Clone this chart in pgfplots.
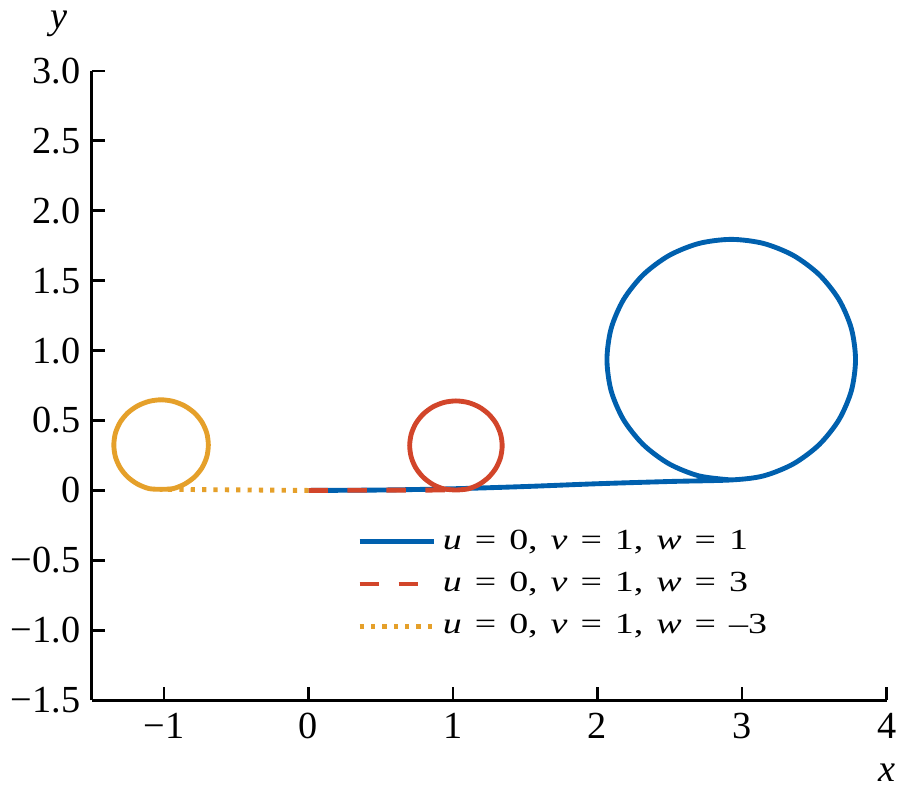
\documentclass[border=0pt]{standalone}
\usepackage{fontspec}
\setmainfont{Liberation Serif}
\newfontfamily\legfont[FakeStretch=1.3]{Liberation Serif}
\usepackage{pgfplots}
\pgfplotsset{compat=1.18}
\definecolor{cblue}{RGB}{0,96,174}
\definecolor{cred}{RGB}{210,69,42}
\definecolor{corange}{RGB}{229,160,42}
\newcommand{\eq}{\hspace{4pt}=\hspace{4pt}}
\newcommand{\cs}{,\hspace{4pt}}
\begin{document}
\begin{tikzpicture}
\begin{axis}[
  scale only axis, width=245pt, height=194pt,
  xmin=-1.5, xmax=4, ymin=-1.5, ymax=3,
  axis lines=left, axis line style={-, line width=0.8pt, black},
  tick align=inside, major tick length=4.2pt,
  tick style={black, line width=0.8pt},
  xtick={-1,0,1,2,3,4}, xticklabels={−1,0,1,2,3,4},
  ytick={-1.5,-1,-0.5,0,0.5,1,1.5,2,2.5,3},
  yticklabels={−1.5,−1.0,−0.5,0,0.5,1.0,1.5,2.0,2.5,3.0},
  tick label style={font=\fontsize{11.8}{13}\selectfont},
  xticklabel style={yshift=-0.5pt},
  clip=false,
  legend cell align=left,
  legend style={draw=none, fill=none, inner sep=0pt, at={(axis cs:0.333,-0.23)}, anchor=north west,
    font=\legfont\fontsize{9}{11}\selectfont, row sep=1.5pt},
  legend image code/.code={\draw[#1] (0pt,0pt) -- (22.9pt,0pt);},
]
% blue: u=0, v=1, w=1
\addplot[cblue, line width=1.5pt, smooth] coordinates {
(0,0) (0.5,0.003) (1,0.012) (1.5,0.028) (2,0.048) (2.5,0.064) (2.925,0.075)
(3.148,0.104) (3.355,0.190) (3.533,0.327) (3.670,0.505) (3.756,0.712) (3.785,0.935)
(3.756,1.158) (3.670,1.365) (3.533,1.543) (3.355,1.680) (3.148,1.766) (2.925,1.795)
(2.702,1.766) (2.495,1.680) (2.317,1.543) (2.180,1.365) (2.094,1.158) (2.065,0.935)
(2.094,0.712) (2.180,0.505) (2.317,0.327) (2.495,0.190) (2.702,0.104) (2.925,0.075)
};
\addlegendentry{\textit{u}\eq0\cs\textit{v}\eq1\cs\textit{w}\eq1}
% red: w=3
\addplot[cred, line width=1.5pt, dash pattern=on 6pt off 6pt] coordinates {
(0,0) (0.5,0.002) (1.02,0.003)
};
\addlegendentry{\textit{u}\eq0\cs\textit{v}\eq1\cs\textit{w}\eq3}
\addplot[cred, line width=1.5pt, smooth, forget plot] coordinates {
(1.020,0.003) (1.103,0.011) (1.180,0.043) (1.246,0.094) (1.297,0.160) (1.329,0.237) (1.340,0.320)
(1.329,0.403) (1.297,0.480) (1.246,0.546) (1.180,0.597) (1.103,0.629) (1.020,0.640)
(0.937,0.629) (0.860,0.597) (0.794,0.546) (0.743,0.480) (0.711,0.403) (0.700,0.320)
(0.711,0.237) (0.743,0.160) (0.794,0.094) (0.860,0.043) (0.937,0.011) (1.020,0.003)
};
% orange: w=-3
\addplot[corange, line width=1.5pt, dash pattern=on 1.3pt off 2.2pt] coordinates {
(0,0) (-0.5,0.004) (-1.02,0.008)
};
\addlegendentry{\textit{u}\eq0\cs\textit{v}\eq1\cs\textit{w}\eq–3}
\addplot[corange, line width=1.5pt, smooth, forget plot] coordinates {
(-1.020,0.008) (-1.103,0.013) (-1.182,0.045) (-1.251,0.096) (-1.303,0.162) (-1.336,0.240) (-1.347,0.325)
(-1.336,0.410) (-1.303,0.488) (-1.251,0.554) (-1.182,0.605) (-1.103,0.637) (-1.020,0.648)
(-0.937,0.637) (-0.858,0.605) (-0.789,0.554) (-0.737,0.488) (-0.704,0.410) (-0.693,0.325)
(-0.704,0.240) (-0.737,0.162) (-0.789,0.096) (-0.858,0.045) (-0.937,0.013) (-1.020,0.008)
};
\node[anchor=south, font=\fontsize{11.8}{13}\selectfont\itshape] at (rel axis cs:0,1) [xshift=-10pt, yshift=7pt] {y};
\node[anchor=north, font=\fontsize{11.8}{13}\selectfont\itshape] at (rel axis cs:1,0) [yshift=-16pt] {x};
\end{axis}
\end{tikzpicture}
\end{document}
